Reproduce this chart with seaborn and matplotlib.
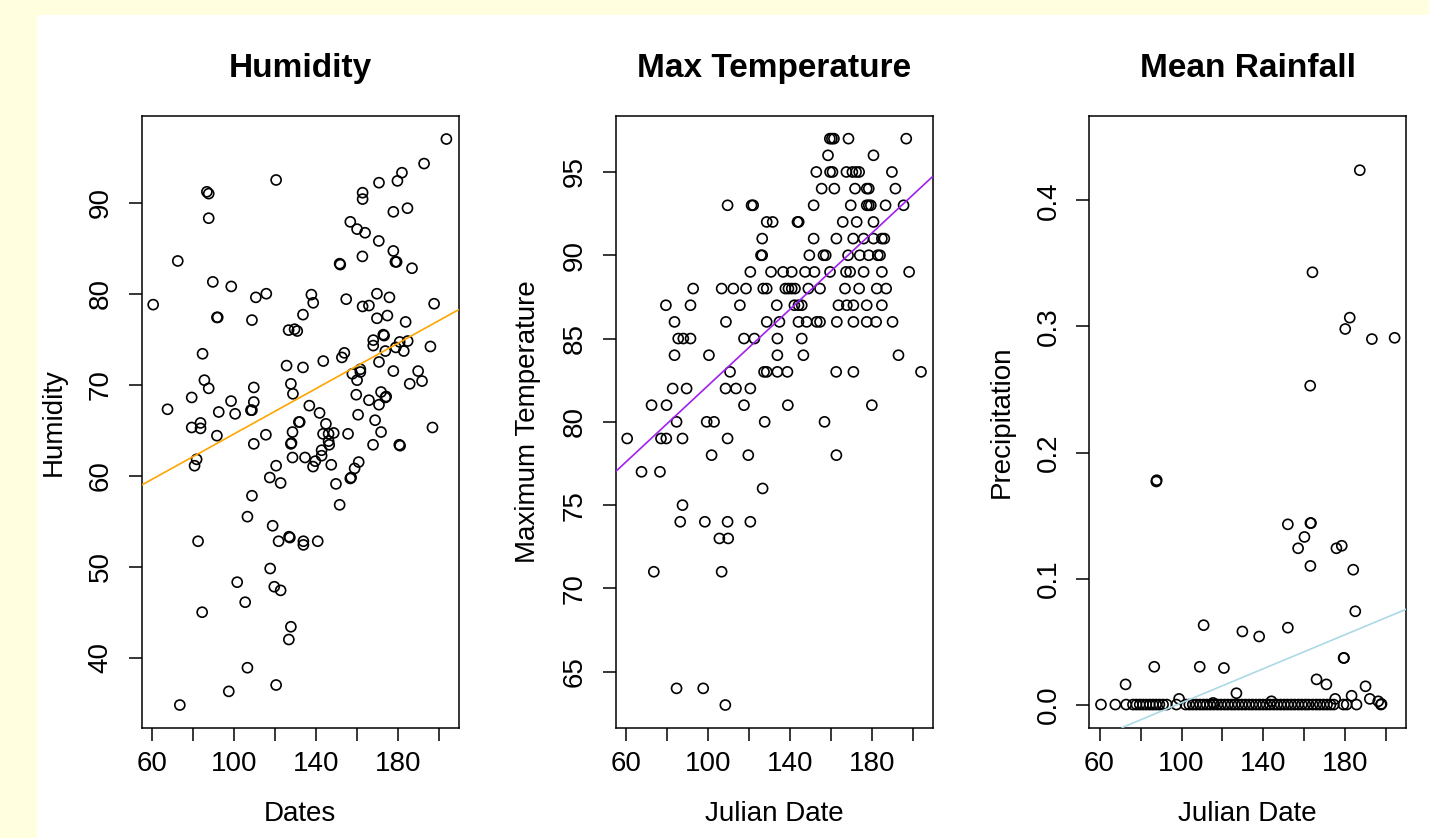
import numpy as np
import pandas as pd
import matplotlib
matplotlib.use("Agg")
import matplotlib.pyplot as plt
import seaborn as sns
from matplotlib.patches import Rectangle

# ── DATA ──────────────────────────────────────────────────────
hum_date = [203.8, 192.9, 182.1, 179.9, 170.9, 162.9, 162.9, 120.7, 86.9, 87.8,
            87.8, 156.9, 160.2, 164.1, 177.9, 184.8, 170.8, 177.9, 178.9, 179.5,
            162.8, 187.0, 151.7, 152.0, 72.7, 89.8, 98.8, 110.8, 115.9, 60.7,
            91.8, 92.2, 108.9, 137.9, 138.8, 133.8, 154.9, 162.9, 166.0, 169.9,
            176.0, 197.8, 169.9, 175.0, 183.9, 126.8, 129.7, 131.0, 173.0, 173.4,
            168.1, 168.1, 174.0, 179.1, 181.0, 184.9, 183.0, 196.0, 154.0, 152.8,
            143.7, 170.9, 84.8, 125.8, 133.8, 157.9, 161.8, 161.8, 160.2, 177.9,
            190.0, 191.9, 185.9, 85.7, 87.8, 109.8, 127.9, 128.9, 79.5, 67.7,
            98.7, 109.8, 159.8, 166.0, 171.9, 174.0, 174.4, 170.9,
            108.4, 108.9, 92.7, 100.7, 136.9, 141.9, 79.5, 83.8, 83.8, 91.8,
            109.8, 115.7, 131.8, 132.2, 128.7, 127.9, 128.2, 145.0, 143.6, 146.3,
            148.8, 146.3, 146.6, 142.9, 142.9, 139.8, 138.7, 134.8, 128.7, 147.6,
            155.8, 160.7, 169.0, 171.9, 168.0, 180.8, 181.2, 197.0, 161.0, 159.0,
            156.9, 157.3, 149.9, 151.7, 81.9, 80.9, 120.7, 117.6, 122.9, 108.9,
            106.7, 119.0, 121.9, 127.0, 127.4, 134.0, 134.0, 141.0, 82.6, 117.8,
            101.7, 119.8, 122.9, 105.6, 84.6, 127.9, 126.9, 106.7, 120.7, 97.6,
            73.7]
hum_value = [97.0, 94.3, 93.3, 92.4, 92.2, 91.1, 90.4, 92.5, 91.2, 91.0,
             88.3, 87.9, 87.1, 86.7, 89.0, 89.4, 85.8, 84.7, 83.5, 83.5,
             84.1, 82.8, 83.3, 83.2, 83.6, 81.3, 80.8, 79.6, 80.0, 78.8,
             77.4, 77.4, 77.1, 79.9, 79.0, 77.7, 79.4, 78.6, 78.7, 80.0,
             79.6, 78.9, 77.3, 77.6, 76.9, 76.0, 76.1, 75.9, 75.5, 75.4,
             74.9, 74.3, 73.7, 74.1, 74.7, 74.8, 73.7, 74.2, 73.5, 73.0,
             72.6, 72.5, 73.4, 72.1, 71.9, 71.2, 71.7, 71.4, 70.5, 71.5,
             71.5, 70.4, 70.1, 70.5, 69.6, 69.7, 70.1, 69.0, 68.6, 67.3,
             68.2, 68.1, 68.9, 68.3, 69.2, 68.6, 68.7, 67.8,
             67.2, 67.2, 67.0, 66.8, 67.7, 66.9, 65.3, 65.8, 65.2, 64.4,
             63.5, 64.5, 65.9, 65.9, 64.8, 63.5, 63.6, 65.7, 64.6, 64.6,
             64.7, 63.8, 63.4, 62.8, 62.2, 61.6, 61.0, 62.0, 62.0, 61.2,
             64.6, 66.7, 66.1, 64.8, 63.4, 63.4, 63.3, 65.3, 61.5, 60.8,
             59.7, 59.8, 59.1, 56.8, 61.8, 61.1, 61.1, 59.8, 59.2, 57.8,
             55.5, 54.5, 52.8, 53.3, 53.2, 52.8, 52.4, 52.8, 52.8, 49.8,
             48.3, 47.8, 47.4, 46.1, 45.0, 43.4, 42.0, 38.9, 37.0, 36.3,
             34.8]
hum_fit = (52.11, 0.1246)      # intercept, slope of the orange line

mt_date = [159.5, 160.5, 161.5, 168.6, 196.8,                                   # 97
           158.6, 180.8,                                                        # 96
           152.9, 159.6, 160.8, 167.6, 170.5, 172.3, 173.8, 189.8,              # 95
           155.5, 161.7, 171.8, 177.5, 178.5, 191.5,                            # 94
           109.6, 121.3, 122.1, 151.6, 169.7, 177.5, 178.5, 179.5, 186.7, 195.5,  # 93
           128.7, 131.6, 143.7, 144.3, 165.8, 172.6, 180.8,                     # 92
           126.5, 151.6, 162.7, 170.9, 176.0, 180.8, 184.9, 186.1,              # 91
           125.9, 126.5, 149.5, 156.4, 157.5, 168.4, 174.1, 178.5, 182.9, 184.0,  # 90
           120.7, 130.8, 136.7, 140.9, 147.4, 152.0, 159.6, 167.4, 169.4, 176.0,
           184.9, 198.2,                                                        # 89
           92.8, 106.7, 112.4, 118.6, 127.0, 128.7, 137.8, 139.3, 140.9, 142.5,
           149.0, 154.7, 166.9, 173.8, 182.4, 187.0,                            # 88
           79.5, 91.5, 115.6, 133.6, 142.2, 144.2, 145.8, 163.7, 167.8, 171.0,
           177.5, 184.9,                                                        # 87
           83.7, 108.8, 128.7, 134.9, 144.2, 148.2, 153.1, 154.7, 162.9, 171.0,
           177.5, 182.1, 190.1,                                                 # 86
           85.5, 88.0, 91.5, 117.6, 122.7, 133.9, 145.8,                        # 85
           83.7, 100.5, 133.9, 146.6, 193.0,                                    # 84
           110.8, 127.4, 128.7, 133.9, 138.8, 162.6, 171.0, 204.0,              # 83
           82.8, 89.6, 108.6, 113.7, 120.7,                                     # 82
           72.5, 79.8, 117.6, 139.0, 180.0,                                     # 81
           84.7, 99.4, 103.0, 127.7, 156.9,                                     # 80
           60.6, 77.1, 79.7, 87.6, 109.6,                                       # 79
           101.8, 119.7, 162.7,                                                 # 78
           67.6, 76.6,                                                          # 77
           126.7,                                                               # 76
           87.6,                                                                # 75
           86.5, 98.5, 109.6, 120.7,                                            # 74
           105.6, 109.9,                                                        # 73
           73.6, 106.7,                                                         # 71
           84.7, 97.7,                                                          # 64
           108.5]                                                               # 63
mt_temp = [97, 97, 97, 97, 97,
           96, 96,
           95, 95, 95, 95, 95, 95, 95, 95,
           94, 94, 94, 94, 94, 94,
           93, 93, 93, 93, 93, 93, 93, 93, 93, 93,
           92, 92, 92, 92, 92, 92, 92,
           91, 91, 91, 91, 91, 91, 91, 91,
           90, 90, 90, 90, 90, 90, 90, 90, 90, 90,
           89, 89, 89, 89, 89, 89, 89, 89, 89, 89,
           89, 89,
           88, 88, 88, 88, 88, 88, 88, 88, 88, 88,
           88, 88, 88, 88, 88, 88,
           87, 87, 87, 87, 87, 87, 87, 87, 87, 87,
           87, 87,
           86, 86, 86, 86, 86, 86, 86, 86, 86, 86,
           86, 86, 86,
           85, 85, 85, 85, 85, 85, 85,
           84, 84, 84, 84, 84,
           83, 83, 83, 83, 83, 83, 83, 83,
           82, 82, 82, 82, 82,
           81, 81, 81, 81, 81,
           80, 80, 80, 80, 80,
           79, 79, 79, 79, 79,
           78, 78, 78,
           77, 77,
           76,
           75,
           74, 74, 74, 74,
           73, 73,
           71, 71,
           64, 64,
           63]
mt_fit = (70.72, 0.1145)       # intercept, slope of the purple line

rain_date = [187.0, 163.9, 182.1, 179.9, 192.9, 204.0, 162.8, 87.7, 87.9, 151.9,
             162.9, 163.2, 160.0, 156.9, 175.6, 178.2, 162.9, 183.8, 184.8, 110.8,
             129.7, 137.9, 151.9, 179.1, 179.3, 86.7, 108.9, 120.7, 165.9, 170.7,
             72.7, 189.8, 126.8, 98.8, 115.4, 143.9, 175.0, 183.0, 191.9, 196.0,
             197.3, 197.6,
             60.7, 67.7, 73.0, 76.3, 78.0, 79.6, 81.2, 82.8, 84.5, 86.0,
             87.6, 89.2, 91.0, 92.8, 97.5, 102.0, 103.8, 105.5, 107.2, 109.0,
             110.6, 112.3, 114.0, 115.8, 117.5, 119.2, 121.0, 122.6, 124.4, 126.0,
             127.8, 129.5, 131.2, 133.0, 134.6, 136.4, 138.1, 139.8, 141.5, 143.2,
             145.0, 146.7, 148.4, 150.1, 151.8, 153.5, 155.2, 157.0, 158.7, 160.4,
             162.0, 164.0, 165.8, 167.5, 169.3, 171.0, 172.7, 174.3, 179.0, 180.6,
             185.4]
rain_prec = [0.424, 0.343, 0.307, 0.298, 0.290, 0.291, 0.253, 0.177, 0.178, 0.143,
             0.144, 0.144, 0.133, 0.124, 0.124, 0.126, 0.110, 0.107, 0.074, 0.063,
             0.058, 0.054, 0.061, 0.037, 0.037, 0.030, 0.030, 0.029, 0.020, 0.016,
             0.016, 0.0145, 0.009, 0.0045, 0.0013, 0.0026, 0.0045, 0.007, 0.0045, 0.0026,
             0.0, 0.0005,
             0.0, 0.0, 0.0, 0.0, 0.0, 0.0, 0.0, 0.0, 0.0, 0.0,
             0.0, 0.0, 0.0, 0.0, 0.0, 0.0, 0.0, 0.0, 0.0, 0.0,
             0.0, 0.0, 0.0, 0.0, 0.0, 0.0, 0.0, 0.0, 0.0, 0.0,
             0.0, 0.0, 0.0, 0.0, 0.0, 0.0, 0.0, 0.0, 0.0, 0.0,
             0.0, 0.0, 0.0, 0.0, 0.0, 0.0, 0.0, 0.0, 0.0, 0.0,
             0.0, 0.0, 0.0, 0.0, 0.0, 0.0, 0.0, 0.0, 0.0, 0.0,
             0.0]
rain_fit = (-0.0663, 0.000677)  # intercept, slope of the light blue line

# ── STYLE ─────────────────────────────────────────────────────
sns.set_style("white")
plt.rcParams["font.family"] = ["Liberation Sans", "DejaVu Sans"]
plt.rcParams["text.color"] = "black"
plt.rcParams["axes.labelcolor"] = "black"

W, H = 1429, 838
fig = plt.figure(figsize=(W / 100, H / 100), dpi=100)
fig.patch.set_facecolor("#FFFFE0")
fig.add_artist(Rectangle((37 / W, 0), 1, 1 - 15 / H, transform=fig.transFigure,
                         facecolor="white", edgecolor="none", zorder=0))

panels = [
    dict(left=141.5, x=hum_date, y=hum_value, fit=hum_fit, color="#FFA500",
         title="Humidity", xlabel="Dates", ylabel="Humidity",
         ylim=(32.33, 99.53), yticks=[40, 50, 60, 70, 80, 90], fmt="{:.0f}"),
    dict(left=615.7, x=mt_date, y=mt_temp, fit=mt_fit, color="#A020F0",
         title="Max Temperature", xlabel="Julian Date", ylabel="Maximum Temperature",
         ylim=(61.65, 98.36), yticks=[65, 70, 75, 80, 85, 90, 95], fmt="{:.0f}"),
    dict(left=1089.3, x=rain_date, y=rain_prec, fit=rain_fit, color="#ADD8E6",
         title="Mean Rainfall", xlabel="Julian Date", ylabel="Precipitation",
         ylim=(-0.0182, 0.467), yticks=[0.0, 0.1, 0.2, 0.3, 0.4], fmt="{:.1f}"),
]

xticks = [60, 80, 100, 120, 140, 160, 180, 200]
xticklabels = ["60", "", "100", "", "140", "", "180", ""]

for p in panels:
    ax = fig.add_axes([p["left"] / W, 1 - 727.5 / H, 317 / W, 611.5 / H])
    ax.set_facecolor("white")
    df = pd.DataFrame({"date": p["x"], "value": p["y"]})
    sns.scatterplot(data=df, x="date", y="value", ax=ax, s=52, marker="o",
                    linewidth=1.2, zorder=3)
    pts = ax.collections[-1]
    pts.set_facecolor("none")
    pts.set_edgecolor("black")

    b0, b1 = p["fit"]
    ax.axline((0, b0), slope=b1, color=p["color"], lw=1.2, zorder=4)

    ax.set_xlim(55.0, 209.7)
    ax.set_ylim(*p["ylim"])
    ax.set_xticks(xticks)
    ax.set_xticklabels(xticklabels)
    ax.set_yticks(p["yticks"])
    ax.set_yticklabels([p["fmt"].format(t) for t in p["yticks"]],
                       rotation=90, va="center")

    for s in ax.spines.values():
        s.set_color("black")
        s.set_linewidth(1.1)
    ax.tick_params(axis="both", direction="out", length=9.4, width=1.1,
                   color="black", labelsize=20, labelcolor="black")
    ax.tick_params(axis="x", bottom=True, pad=7.5)
    ax.tick_params(axis="y", left=True, pad=10.5)

    ax.set_title(p["title"], fontsize=24, fontweight="bold", pad=28, color="black")
    ax.set_xlabel(p["xlabel"], fontsize=20, labelpad=17, color="black")
    ax.set_ylabel(p["ylabel"], fontsize=20, labelpad=15, color="black")

fig.savefig("out.png", dpi=100, facecolor=fig.get_facecolor())
